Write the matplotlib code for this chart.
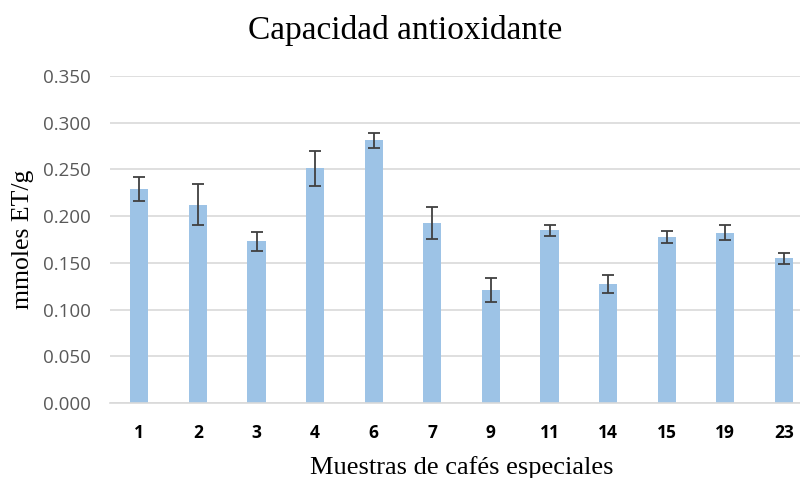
import matplotlib
matplotlib.use("Agg")
import matplotlib.pyplot as plt
import numpy as np

categories = ["1", "2", "3", "4", "6", "7", "9", "11", "14", "15", "19", "23"]
values = [0.229, 0.212, 0.173, 0.251, 0.281, 0.193, 0.121, 0.185, 0.1275, 0.178, 0.182, 0.155]
errors = [0.013, 0.022, 0.010, 0.019, 0.0085, 0.017, 0.0125, 0.006, 0.0095, 0.0065, 0.008, 0.006]
yticks = [0.000, 0.050, 0.100, 0.150, 0.200, 0.250, 0.300, 0.350]

fig = plt.figure(figsize=(8, 4.78), dpi=100)
ax = fig.add_axes([0.1375, 0.157, 0.879, 0.684])

x = np.arange(len(categories))
ax.bar(x, values, width=0.31, color="#9DC3E6", zorder=2)
ax.errorbar(x, values, yerr=errors, fmt="none", ecolor="#404040", elinewidth=1.3,
            capsize=4, capthick=1.3, zorder=3)

ax.set_xlim(-0.5, len(categories) - 0.5)
ax.set_ylim(0, 0.35)
ax.set_yticks(yticks)
ax.set_yticklabels([f"{v:.3f}" for v in yticks], color="#595959", fontsize=13.5, family="Open Sans")
ax.set_xticks(x)
ax.set_xticklabels(categories, fontsize=12.5, fontweight="bold", color="black", family="Open Sans")
ax.grid(axis="y", color="#D9D9D9", linewidth=1.2, zorder=0)
for s in ["top", "right", "left"]:
    ax.spines[s].set_visible(False)
ax.spines["bottom"].set_color("#D9D9D9")
ax.spines["bottom"].set_linewidth(1.2)
ax.tick_params(axis="both", length=0)
ax.tick_params(axis="y", pad=14)
ax.tick_params(axis="x", pad=15)

fig.text(0.5064, 0.937, "Capacidad antioxidante", ha="center", va="center",
         fontsize=24, family="Liberation Serif")
fig.text(0.029, 0.5, "mmoles ET/g", rotation=90, ha="center", va="center",
         fontsize=18.5, family="Liberation Serif")
fig.text(0.577, 0.022, "Muestras de cafés especiales", ha="center", va="center",
         fontsize=19, family="Liberation Serif")

fig.savefig("out.png", dpi=100)
